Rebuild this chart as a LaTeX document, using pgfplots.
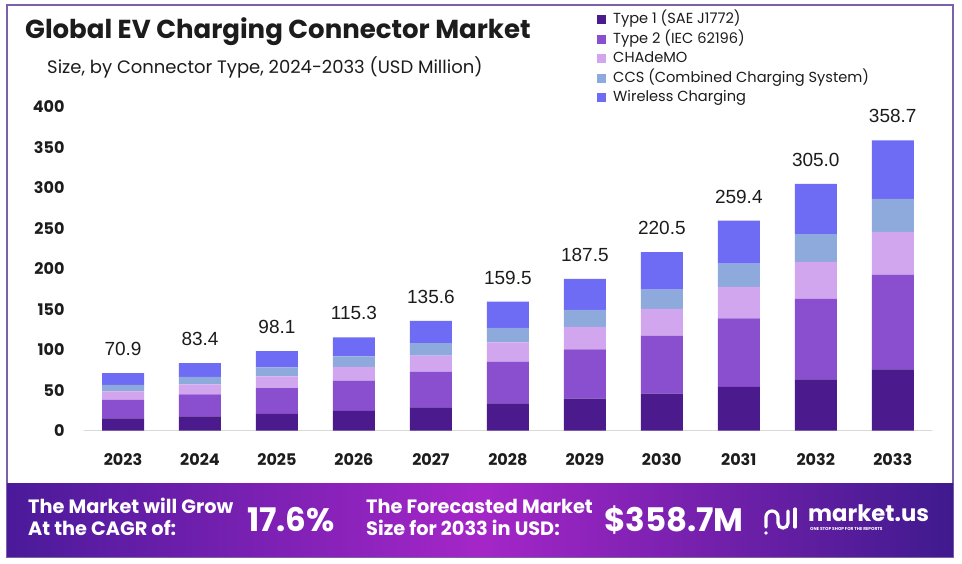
\documentclass[border=0pt]{standalone}
\usepackage{fontspec}
\setmainfont{Poppins}
\newfontfamily\numfont{Liberation Sans}
\usepackage{pgfplots}
\pgfplotsset{compat=1.18}

\definecolor{tone}{HTML}{4B1A8C}
\definecolor{ttwo}{HTML}{8A4FCF}
\definecolor{tcha}{HTML}{D2A6EE}
\definecolor{tccs}{HTML}{8EA9DB}
\definecolor{twls}{HTML}{6E6BF5}
\definecolor{framec}{HTML}{7B62A8}
\definecolor{banL}{HTML}{4A1A9A}
\definecolor{banM}{HTML}{A526C8}
\definecolor{banR}{HTML}{3F1A8E}
\definecolor{ink}{HTML}{1C1C1C}

\pgfplotsset{chartgeom/.style={
  at={(84pt,132.5pt)}, anchor=south west, scale only axis,
  width=848pt, height=323.5pt,
  xmin=-0.507, xmax=10.51, ymin=0, ymax=400}}

\begin{document}
\begin{tikzpicture}
% page, frame and banner
\fill[white] (0pt,0pt) rectangle (962pt,563pt);
\draw[framec, line width=1.2pt] (7pt,6pt) rectangle (953pt,558pt);
\shade[left color=banL, right color=banR, middle color=banM] (7pt,7pt) rectangle (953pt,80pt);

% titles
\node[anchor=west, text=ink, inner sep=0pt, font=\bfseries\fontsize{26}{30}\selectfont] at (25pt,531pt) {Global EV Charging Connector Market};
\node[anchor=west, text=ink, inner sep=0pt, font=\fontsize{18}{22}\selectfont] at (47pt,496pt) {Size, by Connector Type, 2024-2033 (USD Million)};

\begin{axis}[
  chartgeom,
  ybar stacked, bar width=42pt,
  axis x line*=bottom, axis y line*=left,
  x axis line style={-, black!15, line width=1pt},
  y axis line style={draw=none},
  major tick length=0pt,
  xtick=data,
  xticklabels={2023,2024,2025,2026,2027,2028,2029,2030,2031,2032,2033},
  ytick={0,50,...,400},
  /pgf/number format/assume math mode=true,
  ticklabel style={font=\bfseries\fontsize{16}{16}\selectfont, text=ink},
  xticklabel style={yshift=-20pt},
  yticklabel style={xshift=-16pt},
  legend style={at={(rel axis cs:0.605,1.292)}, anchor=north west, draw=none, fill=none,
    font=\fontsize{14.6}{14.6}\selectfont, text=ink, row sep=5pt, inner sep=0pt,
    nodes={inner sep=0pt, text height=11pt, text depth=3.5pt},
    /tikz/every odd column/.append style={column sep=7pt}},
  legend cell align=left,
  legend image code/.code={\fill[#1] (0pt,-4.5pt) rectangle (9pt,4.5pt);},
]
\addplot[fill=tone, draw=none] coordinates {
  (0,14.9)(1,17.5)(2,20.6)(3,24.2)(4,28.5)(5,33.5)(6,39.4)(7,45.7)(8,53.9)(9,63.1)(10,75.6)};
\addplot[fill=ttwo, draw=none] coordinates {
  (0,23.0)(1,27.1)(2,31.9)(3,37.5)(4,44.1)(5,51.8)(6,60.9)(7,71.4)(8,84.7)(9,99.7)(10,117.1)};
\addplot[fill=tcha, draw=none] coordinates {
  (0,10.5)(1,12.3)(2,14.5)(3,17.1)(4,20.1)(5,23.6)(6,27.8)(7,33.2)(8,39.1)(9,45.6)(10,53.0)};
\addplot[fill=tccs, draw=none] coordinates {
  (0,7.9)(1,9.3)(2,11.0)(3,12.9)(4,15.2)(5,17.9)(6,21.0)(7,24.0)(8,28.6)(9,34.4)(10,40.7)};
\addplot[fill=twls, draw=none] coordinates {
  (0,14.6)(1,17.2)(2,20.1)(3,23.6)(4,27.7)(5,32.7)(6,38.4)(7,46.2)(8,53.1)(9,62.2)(10,72.3)};
\legend{Type 1 (SAE J1772), Type 2 (IEC 62196), CHAdeMO, CCS (Combined Charging System), Wireless Charging}
\end{axis}

% totals above the bars
\begin{axis}[chartgeom, hide axis]
\addplot[draw=none, mark=none,
  point meta=explicit symbolic, nodes near coords,
  every node near coord/.append style={anchor=center, yshift=24pt,
    font=\numfont\fontsize{19}{19}\selectfont, text=ink}] coordinates {
  (0,70.9)[70.9] (1,83.4)[83.4] (2,98.1)[98.1] (3,115.3)[115.3] (4,135.6)[135.6]
  (5,159.5)[159.5] (6,187.5)[187.5] (7,220.5)[220.5] (8,259.4)[259.4] (9,305.0)[305.0] (10,358.7)[358.7]};
\end{axis}

% banner text
\node[anchor=west, text=white, align=left, inner sep=0pt, font=\bfseries\fontsize{19.3}{22}\selectfont] at (28pt,46pt) {The Market will Grow\\At the CAGR of:};
\node[anchor=west, text=white, inner sep=0pt, font=\bfseries\fontsize{32.5}{32.5}\selectfont] at (247pt,43pt) {17.6\%};
\node[anchor=west, text=white, align=left, inner sep=0pt, font=\bfseries\fontsize{19.3}{22}\selectfont] at (366pt,46pt) {The Forecasted Market\\Size for 2033 in USD:};
\node[anchor=west, text=white, inner sep=0pt, font=\bfseries\fontsize{32.5}{32.5}\selectfont] at (604pt,43pt) {\$358.7M};
% logo
\begin{scope}[white, line width=3.2pt, line cap=round]
  \draw (766pt,36pt) -- (766pt,46pt) arc[start angle=180, end angle=0, radius=6pt] -- (778pt,40pt);
  \draw (778pt,40pt) arc[start angle=180, end angle=360, radius=5pt] -- (788pt,52pt);
  \draw (795pt,36pt) -- (795pt,54pt);
  \fill (766pt,30pt) circle (1.8pt);
\end{scope}
\node[anchor=west, text=white, inner sep=0pt, font=\bfseries\fontsize{22.7}{22.7}\selectfont] at (808pt,50pt) {market.us};
\node[anchor=west, text=white, inner sep=0pt, font=\bfseries\fontsize{4.3}{5}\selectfont] at (810pt,34pt) {ONE STOP SHOP FOR THE REPORTS};
\end{tikzpicture}
\end{document}
